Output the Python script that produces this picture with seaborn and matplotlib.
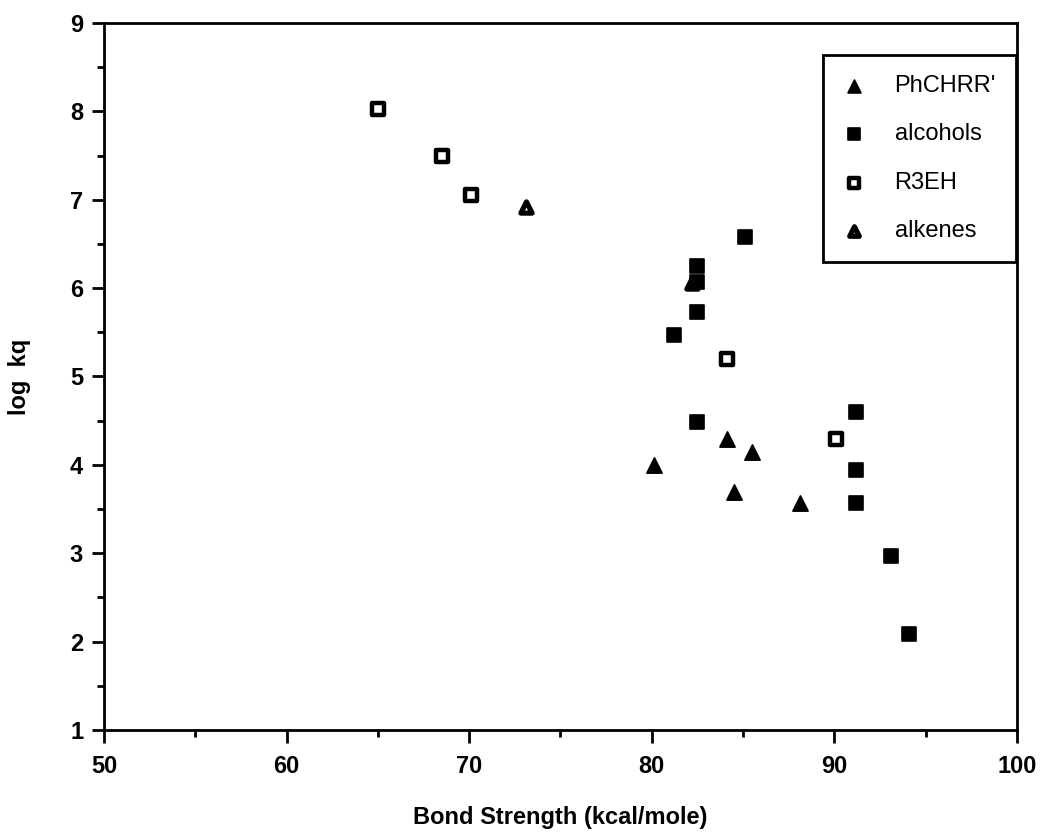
import matplotlib
matplotlib.use("Agg")
import matplotlib.pyplot as plt
from matplotlib.markers import MarkerStyle
from matplotlib.ticker import MultipleLocator
import seaborn as sns

# Bond dissociation energies (kcal/mol) and quenching rate constants (log kq)
phchrr_x = [80.1, 84.1, 85.5, 84.5, 88.1]
phchrr_y = [4.00, 4.29, 4.15, 3.69, 3.57]

alcohols_x = [85.1, 82.5, 82.5, 82.5, 81.2, 82.5, 91.2, 91.2, 91.2, 93.1, 94.1]
alcohols_y = [6.58, 6.25, 6.07, 5.73, 5.47, 4.48, 4.60, 3.94, 3.57, 2.97, 2.09]

r3eh_x = [65.0, 68.5, 70.1, 84.1, 90.1]
r3eh_y = [8.03, 7.49, 7.05, 5.20, 4.29]

alkenes_x = [73.1, 82.2]
alkenes_y = [6.92, 6.06]

x_ticks = [50, 60, 70, 80, 90, 100]
y_ticks = [1, 2, 3, 4, 5, 6, 7, 8, 9]

sns.set_theme(style="ticks")
plt.rcParams["font.family"] = ["Liberation Sans", "DejaVu Sans"]
plt.rcParams["text.color"] = "black"
plt.rcParams["axes.labelcolor"] = "black"
plt.rcParams["xtick.color"] = "black"
plt.rcParams["ytick.color"] = "black"

fig = plt.figure(figsize=(10.44, 8.36), dpi=100)
ax = fig.add_axes([0.0996, 0.1268, 0.8745, 0.8457])

tri_round = MarkerStyle("^", joinstyle="round")
sq_round = MarkerStyle("s", joinstyle="round")

sns.scatterplot(x=phchrr_x, y=phchrr_y, ax=ax, marker=tri_round, s=120,
                color="black", edgecolor="black", linewidth=1.2,
                label="PhCHRR'", zorder=3)
sns.scatterplot(x=alcohols_x, y=alcohols_y, ax=ax, marker=sq_round, s=112,
                color="black", edgecolor="black", linewidth=1.2,
                label="alcohols", zorder=3)
sns.scatterplot(x=r3eh_x, y=r3eh_y, ax=ax, marker=sq_round, s=72,
                color="white", edgecolor="black", linewidth=3.2,
                label="R3EH", zorder=3)
sns.scatterplot(x=alkenes_x, y=alkenes_y, ax=ax, marker=tri_round, s=66,
                color="white", edgecolor="black", linewidth=3.7,
                label="alkenes", zorder=2)

ax.set_xlim(50, 100)
ax.set_ylim(1, 9)
ax.set_xticks(x_ticks)
ax.set_yticks(y_ticks)
ax.xaxis.set_minor_locator(MultipleLocator(5))
ax.yaxis.set_minor_locator(MultipleLocator(0.5))

for side in ["left", "right", "top", "bottom"]:
    ax.spines[side].set_visible(True)
    ax.spines[side].set_linewidth(2.0)
    ax.spines[side].set_color("black")

ax.tick_params(axis="both", which="major", direction="out", length=9,
               width=2.0, color="black", labelsize=17, pad=6)
ax.tick_params(axis="both", which="minor", direction="out", length=5,
               width=2.0, color="black")
ax.tick_params(axis="x", which="major", pad=9)
ax.tick_params(top=False, right=False, which="both")
for lbl in ax.get_xticklabels() + ax.get_yticklabels():
    lbl.set_fontweight("bold")

ax.set_xlabel("Bond Strength (kcal/mole)", fontsize=17, fontweight="bold",
              labelpad=20)
ax.set_ylabel("log  kq", fontsize=17, fontweight="bold", labelpad=28)

leg = ax.legend(loc="upper right", bbox_to_anchor=(0.999, 0.955),
                borderaxespad=0, frameon=True, fancybox=False, shadow=False,
                fontsize=17, labelspacing=1.12, handletextpad=1.2,
                borderpad=0.85, handlelength=1.0, markerscale=0.85)
leg.get_frame().set_edgecolor("black")
leg.get_frame().set_linewidth(2.0)
leg.get_frame().set_alpha(1.0)

fig.savefig("out.png", dpi=100, facecolor="white")
